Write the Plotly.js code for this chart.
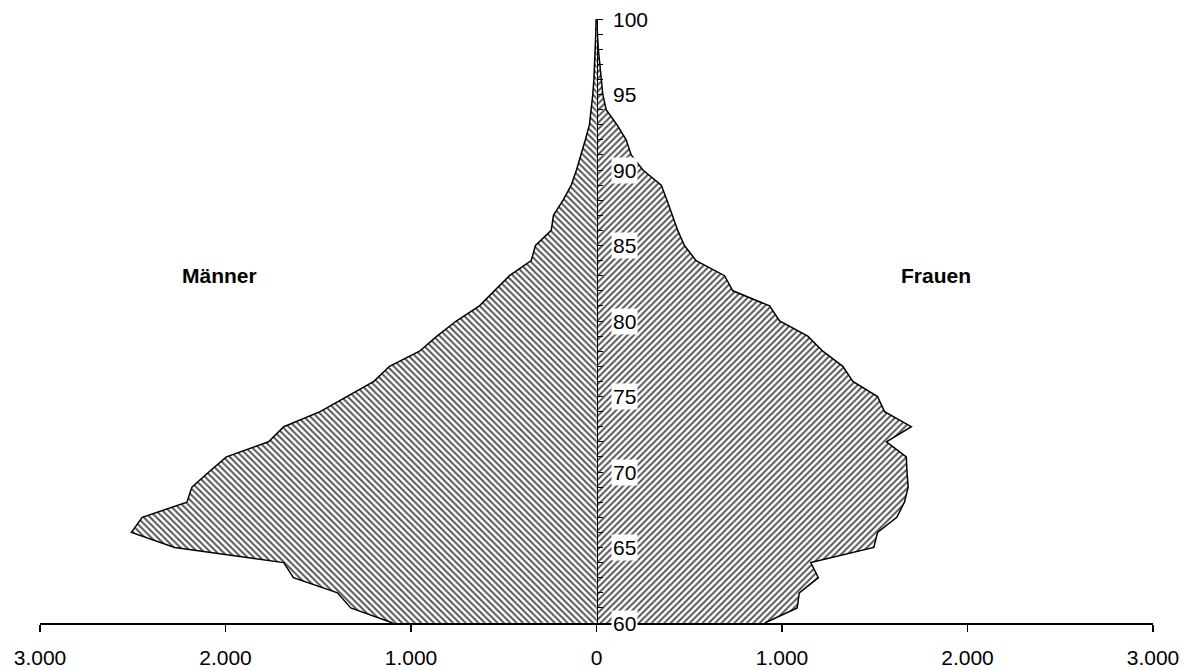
<!DOCTYPE html>
<html>
<head>
<meta charset="utf-8">
<script src="https://cdn.plot.ly/plotly-3.0.1.min.js"></script>
<style>html,body{margin:0;padding:0;background:#fff;}#chart{width:1190px;height:670px;}</style>
</head>
<body>
<div id="chart"></div>
<script>
// Ages 60..100
const ages = [60,61,62,63,64,65,66,67,68,69,70,71,72,73,74,75,76,77,78,79,80,
              81,82,83,84,85,86,87,88,89,90,91,92,93,94,95,96,97,98,99,100];
// Männer (counts)
const maenner = [1098,1325,1396,1634,1686,2274,2507,2449,2208,2181,2090,
                 1995,1768,1686,1490,1345,1200,1116,954,860,756,
                 631,550,469,352,329,244,232,180,136,108,
                 83,60,38,28,20,14,10,7,4,2];
// Frauen (counts)
const frauen = [907,1082,1093,1196,1155,1495,1515,1619,1660,1680,1674,
                1670,1563,1697,1553,1515,1382,1328,1220,1139,987,
                933,735,690,537,474,438,410,380,349,250,
                187,160,110,52,34,25,15,10,5,2];
const xTickVals = [-3000,-2000,-1000,0,1000,2000,3000];
const xTickText = ["3.000","2.000","1.000","0","1.000","2.000","3.000"];
const yLabelAges = [60,65,70,75,80,85,90,95,100];
const groupLabels = ["Männer","Frauen"];

const FONT = '"Liberation Sans", Arial, sans-serif';

const traces = [
  {
    type:'scatter', mode:'lines',
    x: maenner.map(v => -v), y: ages,
    fill:'tozerox',
    fillcolor:'rgba(0,0,0,0)',
    fillpattern:{shape:'\\', size:4.5, solidity:0.45, fgcolor:'#555555', bgcolor:'#ffffff'},
    line:{color:'#000', width:1.5},
    hoverinfo:'skip', showlegend:false
  },
  {
    type:'scatter', mode:'lines',
    x: frauen, y: ages,
    fill:'tozerox',
    fillcolor:'rgba(0,0,0,0)',
    fillpattern:{shape:'/', size:4.5, solidity:0.45, fgcolor:'#555555', bgcolor:'#ffffff'},
    line:{color:'#000', width:1.5},
    hoverinfo:'skip', showlegend:false
  }
];

const annotations = yLabelAges.map(a => ({
  x:0, y:a, xref:'x', yref:'y', text:String(a),
  showarrow:false, xanchor:'left', yanchor:'middle', xshift:14,
  bgcolor:'#ffffff', borderpad:1,
  font:{family:FONT, size:21, color:'#000'}
}));
annotations.push({
  x:-2030, y:83, xref:'x', yref:'y', text:'<b>'+groupLabels[0]+'</b>',
  showarrow:false, font:{family:FONT, size:21, color:'#000'}
});
annotations.push({
  x:1830, y:83, xref:'x', yref:'y', text:'<b>'+groupLabels[1]+'</b>',
  showarrow:false, font:{family:FONT, size:21, color:'#000'}
});

const layout = {
  width:1190, height:670,
  margin:{l:40, r:37, t:19, b:47, pad:0},
  paper_bgcolor:'#fff', plot_bgcolor:'#fff',
  font:{family:FONT, color:'#000'},
  xaxis:{
    range:[-3000,3000], tickvals:xTickVals, ticktext:xTickText,
    ticks:'outside', ticklen:7, tickwidth:1.5, tickcolor:'#000',
    showline:true, linecolor:'#000', linewidth:1.5,
    showgrid:false, zeroline:false,
    tickfont:{family:FONT, size:21, color:'#000'},
    ticklabelstandoff:8, fixedrange:true
  },
  yaxis:{
    range:[60,100], anchor:'free', position:0.5, side:'right',
    dtick:1, tick0:60, ticks:'outside', ticklen:5, tickwidth:1, tickcolor:'#000',
    showline:true, linecolor:'#000', linewidth:1.5,
    showticklabels:false, showgrid:false, zeroline:false, fixedrange:true
  },
  annotations:annotations,
  showlegend:false
};

Plotly.newPlot('chart', traces, layout, {displayModeBar:false, staticPlot:true});
</script>
</body>
</html>
